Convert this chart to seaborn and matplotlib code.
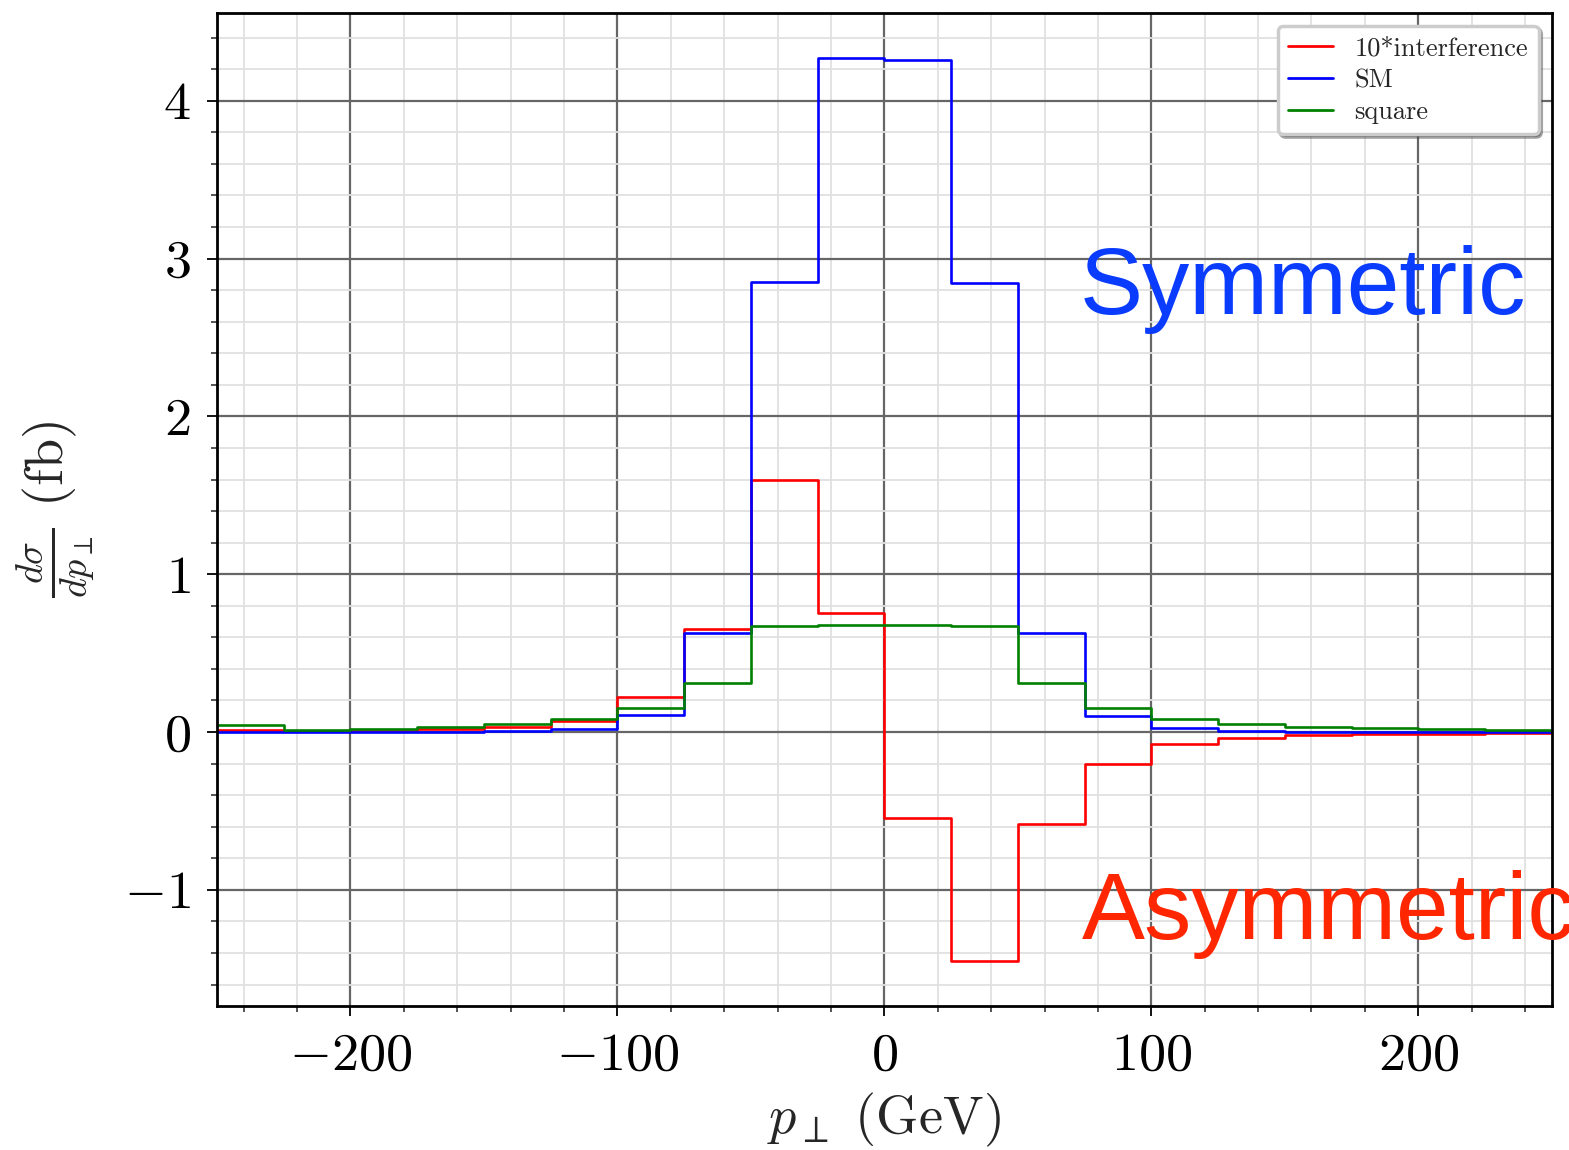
import numpy as np
import pandas as pd
import seaborn as sns
import matplotlib
matplotlib.use("Agg")
import matplotlib.pyplot as plt
from matplotlib.ticker import MultipleLocator, FuncFormatter

# bin edges (GeV)
edges = list(range(-250, 251, 25))

interference10 = [0.013, 0.008, 0.008, 0.017, 0.032, 0.067, 0.22, 0.65, 1.595, 0.755,
                  -0.545, -1.45, -0.58, -0.20, -0.074, -0.038, -0.019, -0.015, -0.012, -0.005]
sm = [0.002, 0.002, 0.002, 0.003, 0.005, 0.02, 0.105, 0.63, 2.85, 4.27,
      4.26, 2.845, 0.625, 0.10, 0.025, 0.007, 0.003, 0.002, 0.002, 0.002]
square = [0.045, 0.014, 0.018, 0.033, 0.05, 0.084, 0.154, 0.31, 0.67, 0.68,
          0.68, 0.67, 0.31, 0.152, 0.084, 0.05, 0.034, 0.023, 0.017, 0.01]

series_names = ["10*interference", "SM", "square"]
series_vals = [interference10, sm, square]
colors = ["red", "blue", "green"]

rows = []
for name, vals in zip(series_names, series_vals):
    for x, v in zip(edges, list(vals) + [vals[-1]]):
        rows.append({"pT": x, "val": v, "series": name})
df = pd.DataFrame(rows)

sns.set_style("white")
plt.rcParams["font.family"] = ["cmr10"]
plt.rcParams["mathtext.fontset"] = "cm"
plt.rcParams["axes.formatter.use_mathtext"] = True
plt.rcParams["axes.unicode_minus"] = True

fig = plt.figure(figsize=(15.69, 11.5), dpi=100)
ax = fig.add_axes([0.1383, 0.1252, 0.989 - 0.1383, 0.9887 - 0.1252])

sns.lineplot(data=df, x="pT", y="val", hue="series", palette=colors,
             estimator=None, sort=False, drawstyle="steps-post", linewidth=1.9,
             ax=ax, legend=True)

ax.set_xlim(-250, 250)
ymin = min(min(v) for v in series_vals)
ymax = max(max(v) for v in series_vals)
pad = 0.05 * (ymax - ymin)
ax.set_ylim(ymin - pad, ymax + pad)

ax.xaxis.set_major_locator(MultipleLocator(100))
ax.xaxis.set_minor_locator(MultipleLocator(20))
ax.yaxis.set_major_locator(MultipleLocator(1))
ax.yaxis.set_minor_locator(MultipleLocator(0.2))
fmt = FuncFormatter(lambda v, p: r"$%d$" % int(round(v)) if v >= 0 else r"$-%d$" % int(round(-v)))
ax.xaxis.set_major_formatter(fmt)
ax.yaxis.set_major_formatter(fmt)

ax.grid(which="major", color="#666666", linewidth=1.6)
ax.grid(which="minor", color="#e0e0e0", linewidth=1.3)
ax.set_axisbelow(True)
ax.tick_params(which="major", direction="out", length=7, width=1.3, labelsize=39,
               bottom=True, left=True, colors="black", pad=12)
ax.tick_params(which="minor", direction="out", length=4, width=1.1, bottom=True, left=True)
for s in ax.spines.values():
    s.set_color("black")
    s.set_linewidth(2)

ax.set_xlabel(r"$p_\perp\ (\mathrm{GeV})$", fontsize=39, labelpad=8)
ax.set_ylabel(r"$\frac{d\sigma}{dp_\perp}\ (\mathrm{fb})$", fontsize=39, labelpad=20)

leg = ax.legend(loc="upper right", fontsize=19, shadow=True, fancybox=True,
                framealpha=1, edgecolor="#cccccc", handlelength=1.7,
                borderaxespad=0.5, labelspacing=0.3)
leg.get_frame().set_linewidth(2.5)
for line in leg.get_lines():
    line.set_linewidth(2)

ax.text(73, 2.65, "Symmetric", fontsize=68, color="#0a3cff",
        family="Liberation Sans", ha="left", va="baseline")
ax.text(74, -1.31, "Asymmetric", fontsize=68, color="#ff2600",
        family="Liberation Sans", ha="left", va="baseline", clip_on=False)

fig.savefig("out.png", dpi=100)
